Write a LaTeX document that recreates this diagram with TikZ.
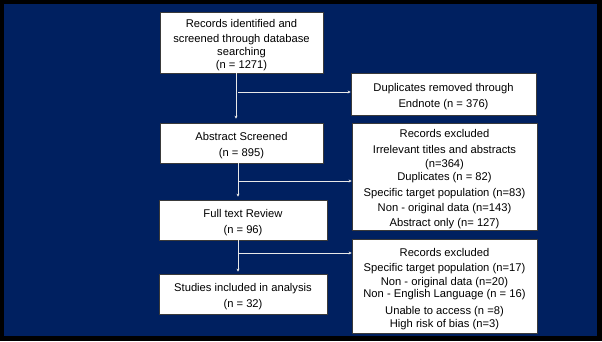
\documentclass[tikz,border=0pt]{standalone}
\usepackage{fontspec}
\setmainfont{Liberation Sans}
\usetikzlibrary{arrows.meta}
\definecolor{navy}{HTML}{002060}
\definecolor{edge}{HTML}{3A3A3A}
\definecolor{flow}{HTML}{E8E8E8}
\newcommand{\topgap}{\rule{0pt}{14pt}}

\begin{document}
\begin{tikzpicture}[x=1pt, y=1pt,
    box/.style={draw=edge, fill=white, line width=0.7pt, align=center,
      inner sep=0pt, font=\fontsize{11.2}{14}\selectfont},
    flowline/.style={draw=flow, line width=0.6pt, -{Stealth[length=3pt, width=3pt]}}]
  % frame and background
  \fill[black] (0,0) rectangle (602,341);
  \fill[navy] (4,5) rectangle (597,337);
  % main column
  \node[box, minimum width=163, minimum height=61] (ident) at (241.5,298.5)
    {\topgap Records identified and\\[1pt] screened through database\\[-1pt] searching\\[-1pt] (n = 1271)};
  \node[box, minimum width=163, minimum height=40] (abst) at (241.5,198)
    {\topgap Abstract Screened\\[2pt] (n = 895)};
  \node[box, minimum width=168, minimum height=40] (full) at (243,121)
    {\topgap Full text Review\\[2pt] (n = 96)};
  \node[box, minimum width=168, minimum height=40] (incl) at (243,47)
    {\topgap Studies included in analysis\\[2pt] (n = 32)};
  % side column
  \node[box, minimum width=185, minimum height=42] (dupl) at (443.5,247)
    {\topgap Duplicates removed through\\[2pt] Endnote (n = 376)};
  \node[box, minimum width=185, minimum height=107] (excA) at (444.5,164.5)
    {\topgap Records excluded\\[2pt] Irrelevant titles and abstracts\\[0pt] (n=364)\\[-1pt]
     Duplicates (n = 82)\\[2pt] Specific target population (n=83)\\[1pt]
     Non - original data (n=143)\\[1pt] Abstract only (n= 127)};
  \node[box, minimum width=185, minimum height=94] (excB) at (444.5,55)
    {\topgap Records excluded\\[1pt] Specific target population (n=17)\\[0pt]
     Non - original data (n=20)\\[-2pt] Non - English Language (n = 16)\\[3pt]
     Unable to access (n =8)\\[-1pt] High risk of bias (n=3)};
  % flow down
  \draw[flowline, shorten >=4pt] ([xshift=-5.5]ident.south) -- ([xshift=-5.5]abst.north);
  \draw[flowline, shorten >=3pt] ([xshift=-3.5]abst.south) -- ([xshift=-5]full.north);
  \draw[flowline, shorten >=2pt] ([xshift=-5]full.south) -- ([xshift=-5]incl.north);
  % branches
  \coordinate (split1) at (238,249);
  \coordinate (split2) at (238,160);
  \coordinate (split3) at (238,88);
  \draw[flowline] (split1) -- (split1 -| dupl.west);
  \draw[flowline] (split2) -- (split2 -| excA.west);
  \draw[flowline] (split3) -- (split3 -| excB.west);
\end{tikzpicture}
\end{document}
